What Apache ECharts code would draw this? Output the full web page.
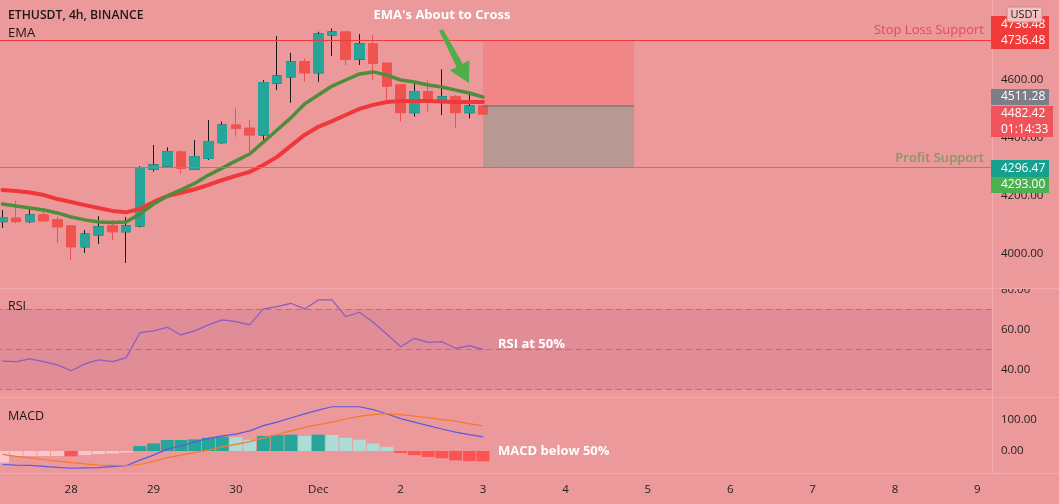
<!DOCTYPE html>
<html>
<head>
<meta charset="utf-8">
<title>ETHUSDT 4h</title>
<script src="https://cdn.jsdelivr.net/npm/echarts@6/dist/echarts.min.js"></script>
<style>
  html, body { margin: 0; padding: 0; background: #eb999a; }
  #chart { width: 1059px; height: 504px; }
</style>
</head>
<body>
<div id="chart"></div>
<script>
// 4h bars, first one is Nov 27 04:00, last one Dec 3 00:00
const opens  = [4110, 4122, 4110, 4133, 4116, 4095, 4023, 4064, 4095, 4075, 4095, 4291, 4302, 4351, 4291, 4329, 4383, 4444, 4433, 4410, 4589, 4611, 4663, 4625, 4756, 4766, 4672, 4725, 4658, 4583, 4487, 4560, 4528, 4542, 4487, 4510];
const closes = [4124, 4110, 4133, 4113, 4092, 4023, 4067, 4092, 4075, 4095, 4295, 4306, 4352, 4295, 4335, 4387, 4444, 4433, 4410, 4591, 4614, 4663, 4625, 4759, 4766, 4672, 4725, 4658, 4579, 4487, 4560, 4525, 4542, 4487, 4510, 4482.42];
const lows   = [4088, 4105, 4105, 4109, 4036, 3977, 4002, 4033, 4046, 3967, 4090, 4283, 4300, 4277, 4288, 4323, 4380, 4404, 4348, 4387, 4565, 4521, 4594, 4594, 4683, 4652, 4652, 4600, 4531, 4456, 4473, 4490, 4479, 4433, 4467, 4478];
const highs  = [4150, 4182, 4161, 4157, 4127, 4098, 4081, 4129, 4116, 4126, 4302, 4375, 4367, 4358, 4392, 4462, 4456, 4502, 4462, 4600, 4752, 4694, 4675, 4767, 4779, 4768, 4759, 4756, 4660, 4585, 4589, 4598, 4637, 4548, 4560, 4513];

// EMA lines
const emaFast = [4171, 4164, 4157, 4150, 4140, 4126, 4116, 4109, 4107, 4109, 4136, 4171, 4199, 4220, 4242, 4271, 4295, 4320, 4344, 4385, 4427, 4469, 4517, 4548, 4579, 4600, 4621, 4628, 4617, 4600, 4593, 4583, 4576, 4565, 4555, 4541];
const emaSlow = [4219, 4216, 4211, 4202, 4188, 4178, 4167, 4157, 4147, 4142, 4154, 4178, 4198, 4210, 4222, 4237, 4254, 4268, 4282, 4306, 4334, 4372, 4410, 4438, 4458, 4479, 4500, 4514, 4524, 4527, 4527, 4527, 4526, 4524, 4524, 4524];

// indicators
const rsi = [44.1, 43.8, 45.2, 43.8, 42.2, 39.3, 42.7, 44.7, 43.8, 45.7, 58.3, 59.2, 61, 57.2, 59.2, 62.2, 64.7, 63.8, 62.2, 70.2, 71.3, 73, 70.2, 74.7, 74.7, 66.3, 68.5, 63.5, 57.5, 51.3, 55.5, 53.5, 53.8, 50.5, 51.8, 50];
const macdLine = [-43, -45, -46, -49, -52, -55, -54, -53, -50, -47, -29, -13, 6, 16, 29, 40, 48, 54, 64, 81, 92, 105, 118, 130, 141, 141, 141, 132, 118, 103, 92, 81, 70, 60, 52, 45];
const signalLine = [-11, -17, -22, -27, -32, -37, -41, -45, -46, -47, -43, -33, -21, -13, -5, 3, 13, 21, 30, 41, 52, 64, 75, 84, 92, 102, 110, 116, 119, 116, 111, 106, 100, 95, 87, 80];
const histogram = [-37, -16, -16, -16, -16, -17, -13, -10, -8, -5, 16, 24, 35, 35, 37, 42, 46, 44, 36, 48, 51, 52, 48, 52, 51, 42, 36, 24, 13, -6, -13, -19, -23, -30, -32, -33];

// axis ticks
const dayTicks = ['28', '29', '30', 'Dec', '2', '3', '4', '5', '6', '7', '8', '9'];
const priceTicks = [4000, 4200, 4400, 4600];
const rsiTicks = [40, 60, 80];
const macdTicks = [0, 100];

// position tool / levels
const stopLoss = 4736.48;
const entryPrice = 4511.28;
const profitTarget = 4296.47;
const profitLevel2 = 4293.0;
const lastPrice = 4482.42;
const countdown = '01:14:33';

const firstMidnight = 5; // bar index of "28"
const barsPerDay = 6;
const totalBars = 73;    // bars + empty space to the right
const posStart = 35, posEnd = 46;

const BG = '#eb999a';
const UP = '#26a69a', DOWN = '#ef5350';
const FONT = '"Open Sans", "Noto Sans", sans-serif';

// category names (one per 4h slot)
const barTimes = [];
const t0 = Date.UTC(2021, 10, 27, 4);
for (let i = 0; i < totalBars; i++) {
  const d = new Date(t0 + i * 4 * 3600 * 1000);
  barTimes.push((d.getUTCMonth() + 1) + '-' + d.getUTCDate() + ' ' + d.getUTCHours() + ':00');
}

const candleData = opens.map((o, i) => [o, closes[i], lows[i], highs[i]]);
// bodies only, drawn on top so the up-candle wicks stay dark
const bodyData = opens.map((o, i) => [o, closes[i], Math.min(o, closes[i]), Math.max(o, closes[i])]);

function histColor(i) {
  const v = histogram[i];
  const rising = i === 0 || v >= histogram[i - 1];
  if (v >= 0) return rising ? UP : '#acdcd5';
  return rising ? '#f8c6cb' : '#ff5252';
}

// grid geometry: category width ~13.73px, first bar centred at x=2.5
const gridLeft = -4.37;
const gridRight = 61.1;

function xAxisFor(gridIndex, showLabels) {
  return {
    type: 'category',
    gridIndex: gridIndex,
    data: barTimes,
    boundaryGap: true,
    axisLine: { show: false },
    axisTick: { show: false },
    splitLine: { show: false },
    axisLabel: {
      show: showLabels,
      margin: 1,
      color: '#222',
      fontSize: 11.5,
      fontFamily: FONT,
      interval: function (index) {
        return index >= firstMidnight && (index - firstMidnight) % barsPerDay === 0;
      },
      formatter: function (value, index) {
        return dayTicks[(index - firstMidnight) / barsPerDay] || '';
      }
    }
  };
}

function yAxisFor(gridIndex, min, max, interval, shown) {
  return {
    type: 'value',
    gridIndex: gridIndex,
    position: 'right',
    min: min,
    max: max,
    interval: interval,
    axisLine: { show: false },
    axisTick: { show: false },
    splitLine: { show: false },
    axisLabel: {
      margin: 3,
      color: '#1f1f1f',
      fontSize: 11.5,
      fontFamily: FONT,
      formatter: function (v) {
        return shown.indexOf(v) >= 0 ? v.toFixed(2) : '';
      }
    }
  };
}

function txt(text, x, y, opts) {
  return {
    type: 'text', z: 100, x: x, y: y,
    style: Object.assign({
      text: text, fill: '#1e1616', fontSize: 13, fontFamily: FONT,
      verticalAlign: 'middle', align: 'left'
    }, opts || {})
  };
}

function priceBox(x, y, w, h, color, lines) {
  const els = [{ type: 'rect', z: 100, shape: { x: x, y: y, width: w, height: h }, style: { fill: color } }];
  const step = h / lines.length;
  lines.forEach((s, k) => {
    els.push(txt(s, x + 10, y + step * (k + 0.5), { fill: '#fff', fontSize: 12 }));
  });
  return els;
}

const chart = echarts.init(document.getElementById('chart'), null, { renderer: 'canvas' });

let graphics = [
  // mask the few px between the plot edge and the price scale
  { type: 'rect', z: 90, shape: { x: 992, y: 0, width: 7, height: 474 }, style: { fill: BG } },
  // the "80.00" label is cut by the pane border
  { type: 'rect', z: 96, shape: { x: 993, y: 278, width: 66, height: 11 }, style: { fill: BG } },
  // pane separators
  { type: 'line', z: 97, shape: { x1: 0, y1: 288.5, x2: 1059, y2: 288.5 }, style: { stroke: '#f2aaab', lineWidth: 1 } },
  { type: 'line', z: 97, shape: { x1: 0, y1: 397.5, x2: 1059, y2: 397.5 }, style: { stroke: '#f2aaab', lineWidth: 1 } },
  { type: 'line', z: 97, shape: { x1: 0, y1: 473.5, x2: 1059, y2: 473.5 }, style: { stroke: '#f2aaab', lineWidth: 1 } },
  { type: 'line', z: 97, shape: { x1: 992.5, y1: 0, x2: 992.5, y2: 474 }, style: { stroke: '#f2aaab', lineWidth: 1 } },

  txt('ETHUSDT, 4h, BINANCE', 8, 16, { fontWeight: 600, fontSize: 12.2 }),
  txt('EMA', 8, 33),
  txt('RSI', 8, 306, { fontSize: 12.5 }),
  txt('MACD', 8, 416, { fontSize: 12.5 }),

  txt("EMA's About to Cross", 442, 15, { fill: '#fff', fontWeight: 'bold', align: 'center' }),
  txt('Stop Loss Support', 984, 30, { fill: '#e24c54', align: 'right' }),
  txt('Profit Support', 984, 158, { fill: '#7f9a66', fontWeight: 600, align: 'right' }),
  txt('RSI at 50%', 498, 344, { fill: '#fff', fontWeight: 'bold' }),
  txt('MACD below 50%', 498, 451, { fill: '#fff', fontWeight: 'bold' }),

  // green arrow pointing at the EMAs
  {
    type: 'polygon', z: 100,
    shape: { points: [[439.2, 30.9], [442.8, 29.1], [462.8, 63.7], [469.4, 60.2], [469, 83], [450, 70.4], [456.6, 66.9]] },
    style: { fill: '#4fae4a' }
  }
];

// price scale labels
graphics = graphics.concat(
  priceBox(991, 16, 58, 33, '#f13b3b', [stopLoss.toFixed(2), stopLoss.toFixed(2)]),
  [
    { type: 'rect', z: 101, shape: { x: 1007, y: 7, width: 35, height: 15, r: 2 }, style: { fill: 'rgba(246,196,196,0.92)', stroke: '#c98c8c', lineWidth: 1 } },
    txt('USDT', 1024.5, 14.5, { fontSize: 11, align: 'center', fill: '#222' })
  ],
  priceBox(991, 89, 58, 16, '#7c7f89', [entryPrice.toFixed(2)]),
  priceBox(991, 106, 62, 31, '#f0545a', [lastPrice.toFixed(2), countdown]),
  priceBox(991, 160, 58, 17, '#15a090', [profitTarget.toFixed(2)]),
  priceBox(991, 177, 58, 16, '#4cb050', [profitLevel2.toFixed(2)])
);
// keep the USDT caption above the red box
graphics.forEach(g => { if (g.type === 'text' && g.style.text === 'USDT') g.z = 102; });

const gridBase = { left: gridLeft, right: gridRight, outerBoundsMode: 'none', containLabel: false };

const option = {
  backgroundColor: BG,
  animation: false,
  grid: [
    Object.assign({ top: 22.2, height: 289 }, gridBase),    // price pane
    Object.assign({ top: 289.3, height: 120 }, gridBase),   // RSI pane
    Object.assign({ top: 388.2, height: 94.2 }, gridBase)   // MACD pane
  ],
  xAxis: [xAxisFor(0, false), xAxisFor(1, false), xAxisFor(2, true)],
  yAxis: [
    yAxisFor(0, 3800, 4800, 200, priceTicks),
    yAxisFor(1, 20, 80, 20, rsiTicks),
    yAxisFor(2, -100, 200, 100, macdTicks)
  ],
  series: [
    {
      name: 'ETHUSDT',
      type: 'candlestick',
      xAxisIndex: 0,
      yAxisIndex: 0,
      data: candleData,
      barWidth: 10,
      itemStyle: { color: UP, color0: DOWN, borderColor: '#1a1a1a', borderColor0: DOWN, borderWidth: 1 },
      markLine: {
        silent: true,
        symbol: ['none', 'none'],
        label: { show: false },
        data: [
          { yAxis: stopLoss, lineStyle: { color: '#f03a3c', width: 1, type: 'solid' } },
          { yAxis: profitTarget, lineStyle: { color: '#4caf50', width: 1, type: 'solid' } },
          [
            { coord: [barTimes[posStart], entryPrice], lineStyle: { color: 'rgba(110,105,105,0.75)', width: 1.5, type: 'solid' } },
            { coord: [barTimes[posEnd], entryPrice] }
          ]
        ]
      },
      markArea: {
        silent: true,
        data: [
          [
            { xAxis: barTimes[posStart], yAxis: stopLoss, itemStyle: { color: 'rgba(255,95,95,0.32)' } },
            { xAxis: barTimes[posEnd], yAxis: entryPrice }
          ],
          [
            { xAxis: barTimes[posStart], yAxis: entryPrice, itemStyle: { color: 'rgba(120,150,140,0.45)' } },
            { xAxis: barTimes[posEnd], yAxis: profitTarget }
          ]
        ]
      }
    },
    {
      name: 'bodies',
      type: 'candlestick',
      xAxisIndex: 0,
      yAxisIndex: 0,
      data: bodyData,
      barWidth: 10,
      itemStyle: { color: UP, color0: DOWN, borderColor: UP, borderColor0: DOWN, borderWidth: 1 }
    },
    {
      name: 'EMA slow',
      type: 'line',
      xAxisIndex: 0,
      yAxisIndex: 0,
      data: emaSlow,
      symbol: 'none',
      lineStyle: { color: '#f0383c', width: 4, cap: 'round', join: 'round' },
      z: 3
    },
    {
      name: 'EMA fast',
      type: 'line',
      xAxisIndex: 0,
      yAxisIndex: 0,
      data: emaFast,
      symbol: 'none',
      lineStyle: { color: '#4f8d3d', width: 3.5, cap: 'round', join: 'round' },
      z: 3
    },
    {
      name: 'RSI',
      type: 'line',
      xAxisIndex: 1,
      yAxisIndex: 1,
      data: rsi,
      symbol: 'none',
      lineStyle: { color: '#8a5cc4', width: 1.2 },
      markArea: {
        silent: true,
        itemStyle: { color: '#e18d98' },
        data: [[{ yAxis: 30 }, { yAxis: 70 }]]
      },
      markLine: {
        silent: true,
        symbol: ['none', 'none'],
        label: { show: false },
        lineStyle: { color: '#a57583', width: 1, type: [6, 4] },
        data: [{ yAxis: 70 }, { yAxis: 50 }, { yAxis: 30 }]
      }
    },
    {
      name: 'Histogram',
      type: 'bar',
      xAxisIndex: 2,
      yAxisIndex: 2,
      data: histogram,
      barWidth: '94%',
      itemStyle: {
        color: function (p) { return histColor(p.dataIndex); }
      }
    },
    {
      name: 'MACD',
      type: 'line',
      xAxisIndex: 2,
      yAxisIndex: 2,
      data: macdLine,
      symbol: 'none',
      lineStyle: { color: '#5a5ae2', width: 1.2 },
      z: 4
    },
    {
      name: 'Signal',
      type: 'line',
      xAxisIndex: 2,
      yAxisIndex: 2,
      data: signalLine,
      symbol: 'none',
      lineStyle: { color: '#f47b2b', width: 1.2 },
      z: 4
    }
  ],
  graphic: graphics
};

chart.setOption(option);
</script>
</body>
</html>
